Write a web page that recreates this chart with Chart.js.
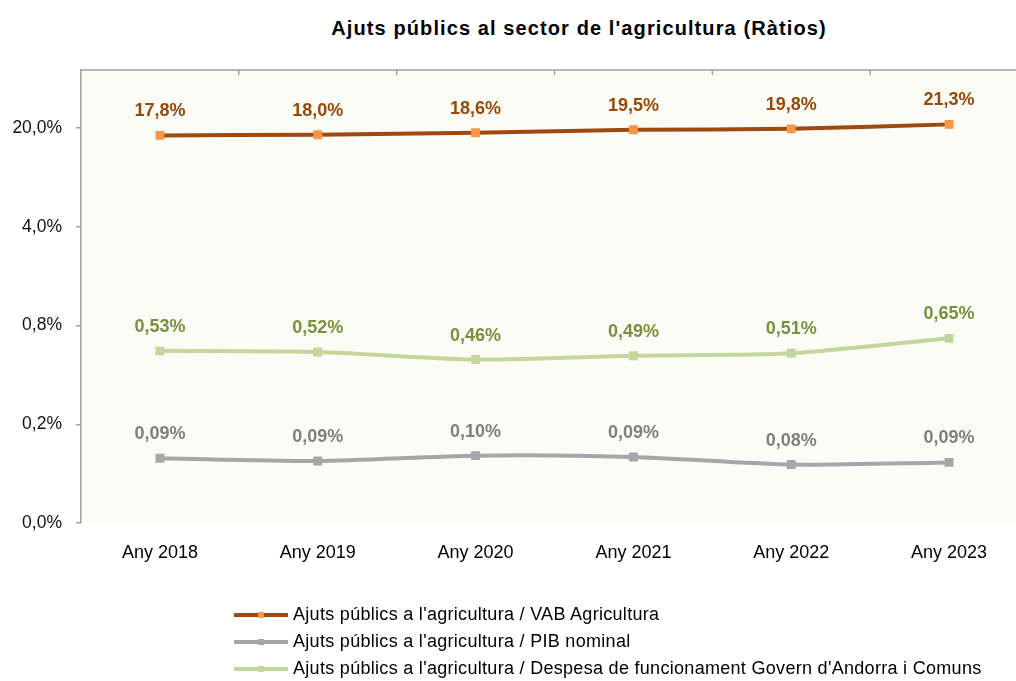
<!DOCTYPE html>
<html>
<head>
<meta charset="utf-8">
<script src="https://cdn.jsdelivr.net/npm/chart.js@4/dist/chart.umd.min.js"></script>
<style>
    html, body { margin: 0; padding: 0; background: #fff; overflow: hidden; }
    body { width: 1016px; height: 681px; position: relative; font-family: "Liberation Sans", Arial, sans-serif; }
    #wrap { position: absolute; left: 0; top: 0; width: 1036px; height: 681px; }
    #title { position: absolute; left: 279px; width: 600px; top: 17px; text-align: center; font-weight: bold; font-size: 20px; letter-spacing: 1.1px; color: #000; white-space: nowrap; }
    #legend { position: absolute; left: 234px; top: 601px; font-size: 18px; letter-spacing: 0.3px; color: #000; }
    .row { display: flex; align-items: center; height: 27px; white-space: nowrap; }
    .sample { position: relative; width: 54px; height: 4px; margin-right: 5px; }
    .sample span { position: absolute; left: 24px; top: -1px; width: 6px; height: 6px; }
</style>
</head>
<body>
<div id="title">Ajuts públics al sector de l'agricultura (Ràtios)</div>
<div id="wrap"><canvas id="ratiosChart"></canvas></div>
<div id="legend"></div>
<script>
// categories and values
const years = ['Any 2018', 'Any 2019', 'Any 2020', 'Any 2021', 'Any 2022', 'Any 2023'];
const vabAgricultura = [17.8, 18.0, 18.6, 19.5, 19.8, 21.3];
const pibNominal = [0.092, 0.088, 0.096, 0.094, 0.083, 0.086];
const despesaFuncionament = [0.53, 0.52, 0.46, 0.49, 0.51, 0.65];
// log axis (base 5 steps) as in the original, labels rounded to one decimal
const yTicks = [0.032, 0.16, 0.8, 4, 20];
const yMin = 0.032;
const yMax = 51.7;

const seriesStyle = [
    { label: "Ajuts públics a l'agricultura / VAB Agricultura", data: vabAgricultura, line: '#A0490E', point: '#F79646', text: '#984807', decimals: 1 },
    { label: "Ajuts públics a l'agricultura / PIB nominal", data: pibNominal, line: '#A6A6A6', point: '#A6A6A6', text: '#7F7F7F', decimals: 2 },
    { label: "Ajuts públics a l'agricultura / Despesa de funcionament Govern d'Andorra i Comuns", data: despesaFuncionament, line: '#C3D69B', point: '#C3D69B', text: '#76923C', decimals: 2 }
];

function fmt(v, d) {
    return v.toFixed(d).replace('.', ',') + '%';
}

// plot area background + top axis line with tick marks between categories
const frame = {
    id: 'frame',
    beforeDraw(chart) {
        const { ctx, chartArea: a } = chart;
        ctx.save();
        ctx.fillStyle = '#FCFCF7';
        ctx.fillRect(a.left, a.top, a.right - a.left, a.bottom - a.top);
        ctx.restore();
    },
    afterDraw(chart) {
        const { ctx, chartArea: a } = chart;
        const x = chart.scales.x;
        ctx.save();
        ctx.strokeStyle = '#A0A0A0';
        ctx.lineWidth = 1.5;
        ctx.beginPath();
        ctx.moveTo(a.left, a.top);
        ctx.lineTo(a.right, a.top);
        for (let i = 0; i < years.length - 1; i++) {
            const px = (x.getPixelForValue(i) + x.getPixelForValue(i + 1)) / 2;
            ctx.moveTo(px, a.top);
            ctx.lineTo(px, a.top + 5);
        }
        ctx.stroke();
        ctx.restore();
    }
};

// value labels above each point
const valueLabels = {
    id: 'valueLabels',
    afterDatasetsDraw(chart) {
        const ctx = chart.ctx;
        ctx.save();
        ctx.font = 'bold 18px "Liberation Sans", Arial, sans-serif';
        ctx.textAlign = 'center';
        ctx.textBaseline = 'middle';
        chart.data.datasets.forEach((ds, i) => {
            const s = seriesStyle[i];
            chart.getDatasetMeta(i).data.forEach((pt, j) => {
                ctx.fillStyle = s.text;
                ctx.fillText(fmt(ds.data[j], s.decimals), pt.x, pt.y - 24);
            });
        });
        ctx.restore();
    }
};

const ctx = document.getElementById('ratiosChart').getContext('2d');
new Chart(ctx, {
    type: 'line',
    data: {
        labels: years,
        datasets: seriesStyle.map(s => ({
            label: s.label,
            data: s.data,
            borderColor: s.line,
            backgroundColor: s.point,
            pointBackgroundColor: s.point,
            pointBorderColor: s.point,
            pointStyle: 'rect',
            pointRadius: 3.5,
            borderWidth: 4,
            tension: 0.25,
            fill: false
        }))
    },
    options: {
        responsive: true,
        maintainAspectRatio: false,
        animation: false,
        layout: { padding: { top: 70, bottom: 118, left: 0, right: 3 } },
        scales: {
            x: {
                type: 'category',
                offset: true,
                grid: { display: false },
                border: { display: false },
                ticks: {
                    color: '#000',
                    padding: 11,
                    maxRotation: 0,
                    font: { family: '"Liberation Sans", Arial, sans-serif', size: 18 }
                },
                afterFit: s => { s.height = 40; }
            },
            y: {
                type: 'logarithmic',
                min: yMin,
                max: yMax,
                afterBuildTicks: axis => { axis.ticks = yTicks.map(v => ({ value: v })); },
                grid: { drawOnChartArea: false, drawTicks: true, tickLength: 5, color: '#A0A0A0', lineWidth: 1.5 },
                border: { display: true, color: '#A0A0A0', width: 1.5 },
                ticks: {
                    autoSkip: false,
                    color: '#111',
                    padding: 14,
                    font: { family: '"Liberation Sans", Arial, sans-serif', size: 17.5 },
                    callback: v => fmt(v, 1)
                },
                afterFit: s => { s.width = 81; }
            }
        },
        plugins: {
            legend: { display: false },
            title: { display: false },
            tooltip: { enabled: false }
        }
    },
    plugins: [frame, valueLabels]
});

// legend below the chart
const legend = document.getElementById('legend');
seriesStyle.forEach(s => {
    const row = document.createElement('div');
    row.className = 'row';
    row.innerHTML = '<div class="sample" style="background:' + s.line + '"><span style="background:' + s.point + '"></span></div><div>' + s.label + '</div>';
    legend.appendChild(row);
});
</script>
</body>
</html>
